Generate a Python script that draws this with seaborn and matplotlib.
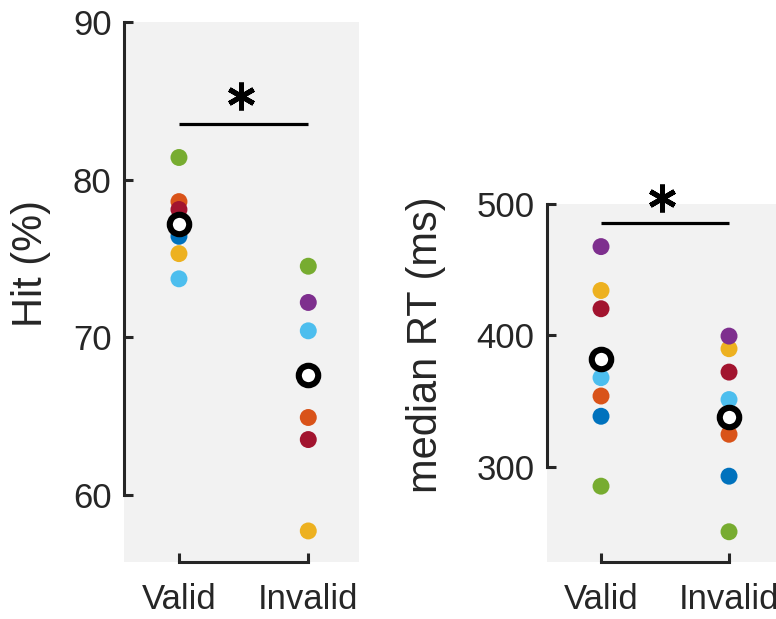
import numpy as np
import pandas as pd
import seaborn as sns
import matplotlib.pyplot as plt

# values (7 subjects, MATLAB default colour order)
subjects = ["S1", "S2", "S3", "S4", "S5", "S6", "S7"]
subject_colors = ["#0072BD", "#D95319", "#EDB120", "#7E2F8E",
                  "#77AC30", "#4DBEEE", "#A2142F"]
conditions = ["Valid", "Invalid"]

hit_valid = [76.4, 78.6, 75.3, 77.2, 81.4, 73.7, 78.1]
hit_invalid = [67.4, 64.9, 57.7, 72.2, 74.5, 70.4, 63.5]
hit_mean = [77.2, 67.6]

rt_valid = [338.5, 353.9, 434.2, 467.6, 285.3, 367.9, 420.3]
rt_invalid = [292.9, 324.8, 389.9, 399.5, 250.6, 351.2, 372.1]
rt_mean = [382.3, 338.0]

INK = "#262626"


def long_frame(valid, invalid):
    rows = []
    for cond, vals in zip(conditions, [valid, invalid]):
        for subj, v in zip(subjects, vals):
            rows.append({"cond": cond, "subject": subj, "value": v})
    return pd.DataFrame(rows)


def draw_panel(ax, valid, invalid, means, ylabel, yticks, ylim, xlim,
               sig_y, star_y, label_xy):
    df = long_frame(valid, invalid)
    sns.stripplot(data=df, x="cond", y="value", hue="subject",
                  order=conditions, hue_order=subjects, palette=subject_colors,
                  jitter=False, size=12.2, linewidth=0, legend=False, ax=ax)
    mdf = pd.DataFrame({"cond": conditions, "value": means})
    sns.stripplot(data=mdf, x="cond", y="value", order=conditions,
                  jitter=False, size=14, color="white", edgecolor="black",
                  linewidth=4.4, ax=ax, zorder=5)

    ax.set_facecolor("#F2F2F2")
    ax.set_xlim(*xlim)
    ax.set_ylim(*ylim)
    ax.set_yticks(yticks)
    ax.set_xticks([0, 1])
    ax.set_xticklabels(conditions)
    ax.set_xlabel("")
    ax.set_ylabel(ylabel, fontsize=30, color=INK)
    ax.yaxis.set_label_coords(*label_xy)

    for side in ["top", "right"]:
        ax.spines[side].set_visible(False)
    ax.spines["left"].set_bounds(yticks[0], yticks[-1])
    ax.spines["bottom"].set_bounds(0, 1)
    for side in ["left", "bottom"]:
        ax.spines[side].set_linewidth(2.2)
        ax.spines[side].set_color(INK)
    ax.tick_params(axis="both", direction="in", length=6.5, width=2.2,
                   color=INK, labelcolor=INK, labelsize=25,
                   left=True, bottom=True)
    ax.tick_params(axis="y", pad=9)
    ax.tick_params(axis="x", pad=15)

    # significance bar + star
    ax.plot([0, 1], [sig_y, sig_y], color="black", lw=2.3,
            solid_capstyle="butt", clip_on=False)
    ax.plot([0.48], [star_y], marker=(6, 2, 0), markersize=20,
            markeredgewidth=3.6, color="black", clip_on=False)


sns.set_theme(style="white")
plt.rcParams["font.family"] = ["Liberation Sans", "DejaVu Sans"]

fig = plt.figure(figsize=(7.76, 6.19), dpi=100)
ax1 = fig.add_axes([0.1598, 0.0921, 0.3028, 0.8724])
ax2 = fig.add_axes([0.7049, 0.0921, 0.2951, 0.5783])

draw_panel(ax1, hit_valid, hit_invalid, hit_mean, "Hit (%)",
           [60, 70, 80, 90], (55.73, 90), (-0.425, 1.392),
           83.53, 85.3, (-0.309, 0.553))
draw_panel(ax2, rt_valid, rt_invalid, rt_mean, "median RT (ms)",
           [300, 400, 500], (227.6, 500), (-0.422, 1.367),
           485.8, 504.8, (-0.44, 0.606))

fig.savefig("out.png", dpi=100)
